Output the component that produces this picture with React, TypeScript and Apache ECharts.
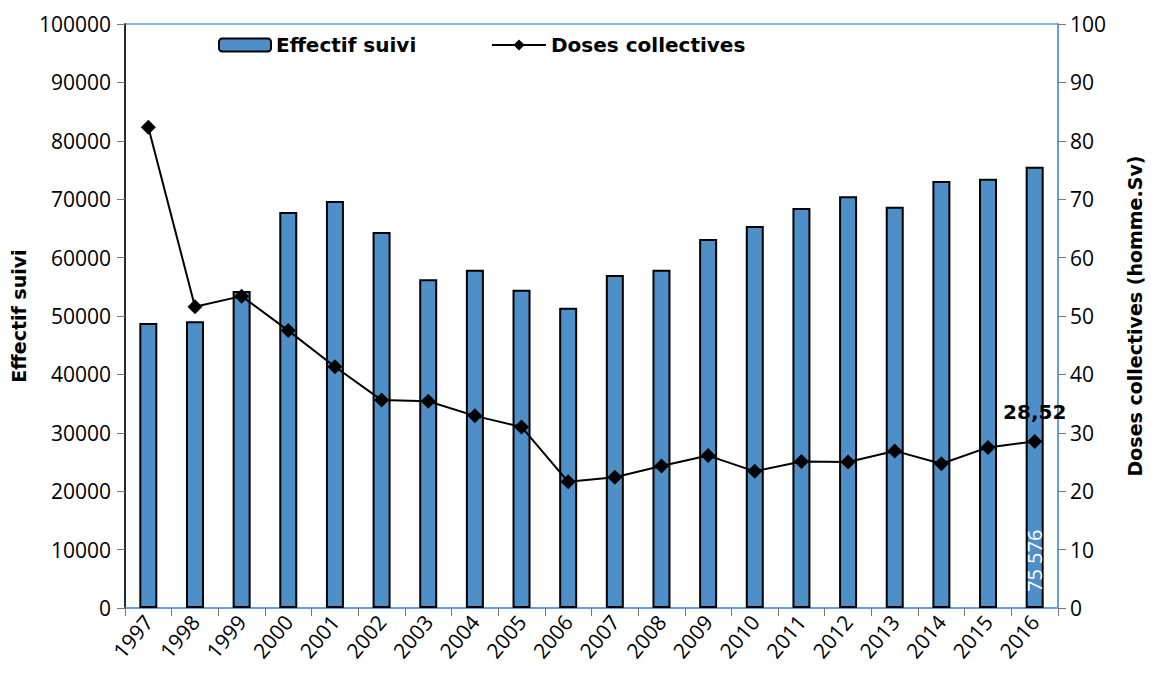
import React, { useEffect, useRef } from "react";
import * as echarts from "echarts";

const years = ["1997","1998","1999","2000","2001","2002","2003","2004","2005","2006","2007","2008","2009","2010","2011","2012","2013","2014","2015","2016"];
const effectif = [48800, 49100, 54300, 67800, 69700, 64400, 56300, 57900, 54500, 51400, 57000, 57900, 63200, 65400, 68500, 70500, 68700, 73100, 73500, 75576];
const doses = [82.3, 51.6, 53.4, 47.5, 41.3, 35.6, 35.4, 32.9, 31.0, 21.6, 22.4, 24.3, 26.1, 23.4, 25.1, 25.0, 26.9, 24.7, 27.5, 28.52];

const FONT = "'Open Sans', 'DejaVu Sans', sans-serif";
const BOLD = "'DejaVu Sans', sans-serif";

export default function App() {
  const ref = useRef<HTMLDivElement>(null);
  useEffect(() => {
    if (!ref.current) return;
    const chart = echarts.init(ref.current, null, { renderer: "svg" });
    const last = years.length - 1;
    const legendText = { fontSize: 20, fontWeight: "bold", color: "#000", fontFamily: BOLD };
    chart.setOption({
      animation: false,
      textStyle: { fontFamily: FONT },
      grid: {
        left: 125, right: 93, top: 24, bottom: 67,
        show: true, borderColor: "#5b9bd5", borderWidth: 1.5,
        containLabel: false, outerBoundsMode: "none",
      },
      legend: [
        {
          top: 30,
          left: 213,
          itemWidth: 52,
          itemHeight: 13,
          textStyle: legendText,
          data: [{ name: "Effectif suivi", itemStyle: { color: "#4f8fc8", borderColor: "#000", borderWidth: 2 } }],
        },
        {
          top: 30,
          left: 486,
          itemWidth: 54,
          itemHeight: 14,
          textStyle: legendText,
          data: [{ name: "Doses collectives" }],
        },
      ],
      xAxis: {
        type: "category",
        data: years,
        boundaryGap: true,
        axisLine: { lineStyle: { color: "#5b9bd5", width: 1.5 } },
        axisTick: { show: true, length: 8, lineStyle: { color: "#777" } },
        axisLabel: { rotate: 50, fontSize: 21, color: "#000", margin: 10, fontFamily: FONT },
      },
      yAxis: [
        {
          type: "value",
          min: 0,
          max: 100000,
          interval: 10000,
          name: "Effectif suivi",
          nameLocation: "middle",
          nameGap: 97,
          nameTextStyle: { fontSize: 19, fontWeight: "bold", color: "#000", fontFamily: BOLD },
          axisLine: { show: true, lineStyle: { color: "#000", width: 1.5 } },
          axisTick: { show: true, length: 8, lineStyle: { color: "#777" } },
          splitLine: { show: false },
          axisLabel: { fontSize: 21, color: "#000", margin: 14, fontFamily: FONT, formatter: (v: number) => String(v) },
        },
        {
          type: "value",
          min: 0,
          max: 100,
          interval: 10,
          name: "Doses collectives (homme.Sv)",
          nameLocation: "middle",
          nameGap: 67,
          nameRotate: 90,
          nameTextStyle: { fontSize: 19, fontWeight: "bold", color: "#000", fontFamily: BOLD },
          axisLine: { show: true, lineStyle: { color: "#5b9bd5", width: 1.5 } },
          axisTick: { show: true, length: 8, lineStyle: { color: "#777" } },
          splitLine: { show: false },
          axisLabel: { fontSize: 21, color: "#000", margin: 12, fontFamily: FONT },
        },
      ],
      series: [
        {
          name: "Effectif suivi",
          type: "bar",
          yAxisIndex: 0,
          barWidth: 18,
          itemStyle: { color: "#4f8fc8", borderColor: "#000", borderWidth: 2 },
          data: effectif.map((v, i) =>
            i === last
              ? {
                  value: v,
                  label: {
                    show: true,
                    position: "insideBottom",
                    rotate: 90,
                    align: "left",
                    verticalAlign: "middle",
                    distance: 16,
                    color: "#fff",
                    fontSize: 20,
                    fontFamily: FONT,
                    formatter: () => "75 576",
                  },
                }
              : v
          ),
        },
        {
          name: "Doses collectives",
          type: "line",
          yAxisIndex: 1,
          symbol: "diamond",
          symbolSize: 15,
          lineStyle: { color: "#000", width: 2 },
          itemStyle: { color: "#000" },
          data: doses.map((v, i) =>
            i === last
              ? {
                  value: v,
                  label: {
                    show: true,
                    position: "top",
                    distance: 12,
                    color: "#000",
                    fontSize: 20,
                    fontWeight: "bold",
                    fontFamily: BOLD,
                    formatter: () => "28,52",
                  },
                }
              : v
          ),
        },
      ],
    });
    return () => chart.dispose();
  }, []);
  return <div ref={ref} style={{ width: 1151, height: 675, position: "absolute", left: 0, top: 0 }} />;
}
